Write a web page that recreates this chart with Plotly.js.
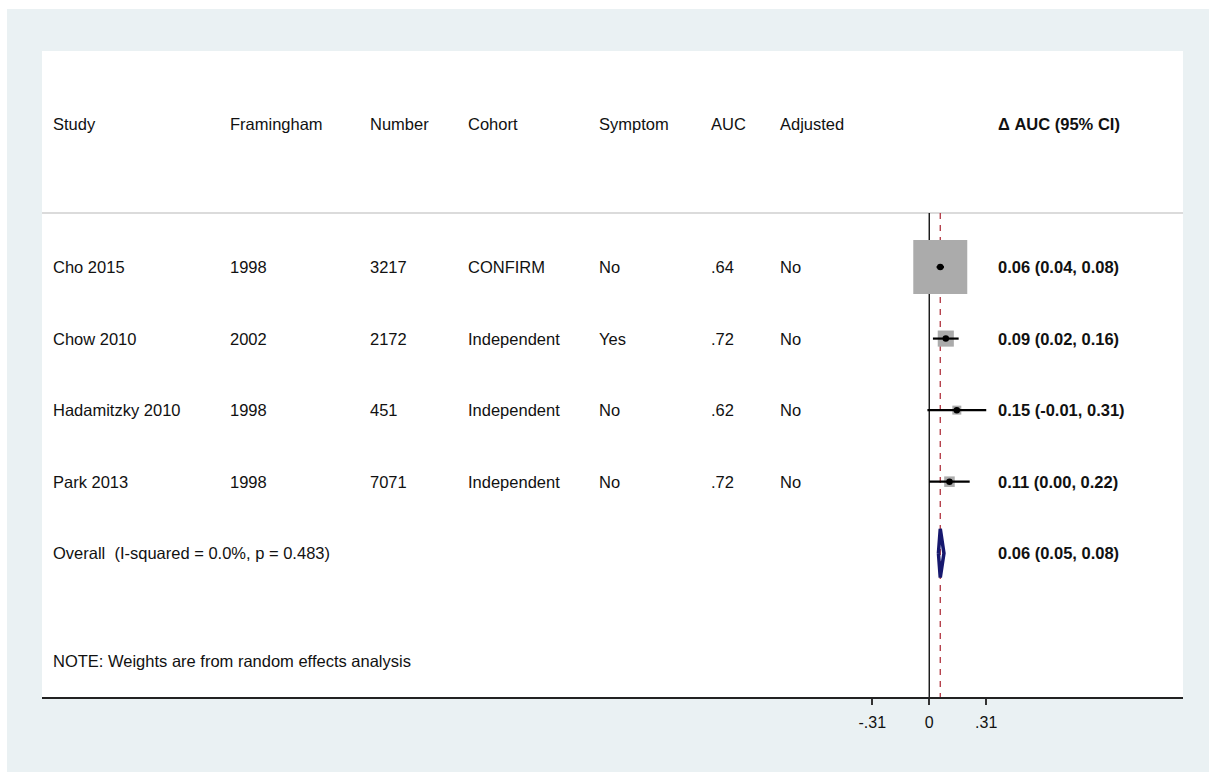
<!DOCTYPE html>
<html>
<head>
<meta charset="utf-8">
<script src="https://cdn.plot.ly/plotly-3.0.1.min.js"></script>
<style>
  html, body { margin: 0; padding: 0; background: #ffffff; }
  #chart { width: 1209px; height: 772px; }
</style>
</head>
<body>
<div id="chart"></div>
<script>
// Study-level table
const studies    = ['Cho 2015', 'Chow 2010', 'Hadamitzky 2010', 'Park 2013'];
const framingham = ['1998', '2002', '1998', '1998'];
const numbers    = ['3217', '2172', '451', '7071'];
const cohorts    = ['CONFIRM', 'Independent', 'Independent', 'Independent'];
const symptoms   = ['No', 'Yes', 'No', 'No'];
const aucValues  = ['.64', '.72', '.62', '.72'];
const adjusted   = ['No', 'No', 'No', 'No'];

// Delta AUC with 95% CI and random-effects weights (%)
const deltaAuc = [0.06, 0.09, 0.15, 0.11];
const ciLower  = [0.04, 0.02, -0.01, 0.00];
const ciUpper  = [0.08, 0.16, 0.31, 0.22];
const weights  = [86.6, 7.7, 2.4, 3.3];

// Pooled estimate
const overallEst = 0.06;
const overallLo  = 0.05;
const overallHi  = 0.08;

const headers = ['Study', 'Framingham', 'Number', 'Cohort', 'Symptom', 'AUC', 'Adjusted'];
const effectHeader = 'Δ AUC (95% CI)';
const overallLabel = 'Overall  (I-squared = 0.0%, p = 0.483)';
const noteText = 'NOTE: Weights are from random effects analysis';

const tickVals = [-0.31, 0, 0.31];
const tickText = ['-.31', '0', '.31'];

// ---- geometry of the page ----
const W = 1209, H = 772;
const plotL = 42, plotR = 1183, plotT = 51, plotB = 697;
const plotW = plotR - plotL, plotH = plotB - plotT;
const px2paperX = px => (px - plotL) / plotW;
const px2paperY = py => (plotB - py) / plotH;

const columnPx = [52, 229, 369, 467, 598, 710, 779];
const effectColPx = 997;

// rows: 1..4 studies, 5 overall; header at -1, note at 6.51
const rowY = studies.map((_, i) => i + 1);
const overallRow = studies.length + 1;
const headerRow = -1;
const noteRow = 6.51;
const dividerRow = 0.245;

const fmt = v => v.toFixed(2);
const txtColor = '#111111';
const baseFont = { family: 'Arial, "Liberation Sans", sans-serif', size: 16.5, color: txtColor };

// ---- traces ----
const boxTrace = {
  type: 'scatter', mode: 'markers',
  x: deltaAuc, y: rowY,
  marker: { symbol: 'square', size: weights.map(w => Math.sqrt(w) * 5.8), color: '#ababab', opacity: 1, line: { width: 0 } },
  hoverinfo: 'skip', showlegend: false
};

const ciX = [], ciY = [];
studies.forEach((_, i) => { ciX.push(ciLower[i], ciUpper[i], null); ciY.push(rowY[i], rowY[i], null); });
const ciTrace = {
  type: 'scatter', mode: 'lines', x: ciX, y: ciY,
  line: { color: '#000000', width: 2.2 },
  hoverinfo: 'skip', showlegend: false
};

const pointTrace = {
  type: 'scatter', mode: 'markers', x: deltaAuc, y: rowY,
  marker: { symbol: 'circle', size: 6.5, color: '#000000', opacity: 1 },
  hoverinfo: 'skip', showlegend: false
};

const dh = 0.34;
const diamondTrace = {
  type: 'scatter', mode: 'lines',
  x: [overallLo, overallEst, overallHi, overallEst, overallLo],
  y: [overallRow, overallRow - dh, overallRow, overallRow + dh, overallRow],
  line: { color: '#16186e', width: 3.5 },
  hoverinfo: 'skip', showlegend: false
};

// ---- text ----
const annotations = [];
const addText = (px, y, text, bold) => annotations.push({
  xref: 'paper', yref: 'y', x: px2paperX(px), y: y,
  text: bold ? '<b>' + text + '</b>' : text,
  showarrow: false, xanchor: 'left', yanchor: 'middle',
  font: baseFont, borderpad: 0
});

headers.forEach((h, c) => addText(columnPx[c], headerRow, h, false));
addText(effectColPx, headerRow, effectHeader, true);

const columns = [studies, framingham, numbers, cohorts, symptoms, aucValues, adjusted];
studies.forEach((_, i) => {
  columns.forEach((col, c) => addText(columnPx[c], rowY[i], col[i], false));
  addText(effectColPx, rowY[i], fmt(deltaAuc[i]) + ' (' + fmt(ciLower[i]) + ', ' + fmt(ciUpper[i]) + ')', true);
});
addText(columnPx[0], overallRow, overallLabel, false);
addText(effectColPx, overallRow, fmt(overallEst) + ' (' + fmt(overallLo) + ', ' + fmt(overallHi) + ')', true);
addText(columnPx[0], noteRow, noteText, false);

// ---- reference lines and page frame ----
const shapes = [
  // white strip at the top and left edges of the page
  { type: 'rect', xref: 'paper', yref: 'paper', layer: 'above',
    x0: px2paperX(0), x1: px2paperX(W), y0: px2paperY(9), y1: px2paperY(0),
    fillcolor: '#ffffff', line: { width: 0 } },
  { type: 'rect', xref: 'paper', yref: 'paper', layer: 'above',
    x0: px2paperX(0), x1: px2paperX(7), y0: px2paperY(H), y1: px2paperY(0),
    fillcolor: '#ffffff', line: { width: 0 } },
  // divider under the header row
  { type: 'line', xref: 'paper', yref: 'y', x0: 0, x1: 1, y0: dividerRow, y1: dividerRow,
    line: { color: '#cfcfcf', width: 1.5 }, layer: 'below' },
  // no-effect line
  { type: 'line', xref: 'x', yref: 'y', x0: 0, x1: 0, y0: dividerRow, y1: 7.2,
    line: { color: '#000000', width: 1.3 }, layer: 'below' },
  // pooled estimate line
  { type: 'line', xref: 'x', yref: 'y', x0: overallEst, x1: overallEst, y0: dividerRow, y1: 7.2,
    line: { color: '#b0343f', width: 1.3, dash: '6px,6px' }, layer: 'below' }
];

const layout = {
  width: W, height: H,
  margin: { l: plotL, r: W - plotR, t: plotT, b: H - plotB, pad: 0 },
  paper_bgcolor: '#eaf1f3',
  plot_bgcolor: '#ffffff',
  showlegend: false,
  font: baseFont,
  xaxis: {
    range: [-4.825, 1.380],
    tickvals: tickVals, ticktext: tickText,
    ticks: 'outside', ticklen: 6, tickwidth: 1.5, tickcolor: '#333333',
    tickfont: { family: baseFont.family, size: 16, color: txtColor },
    ticklabelstandoff: 4,
    showline: true, linecolor: '#222222', linewidth: 2,
    showgrid: false, zeroline: false, fixedrange: true
  },
  yaxis: {
    range: [7.01, -2.02],
    visible: false, showgrid: false, zeroline: false, fixedrange: true
  },
  shapes: shapes,
  annotations: annotations
};

Plotly.newPlot('chart', [boxTrace, ciTrace, pointTrace, diamondTrace], layout,
  { displayModeBar: false, staticPlot: true });
</script>
</body>
</html>
